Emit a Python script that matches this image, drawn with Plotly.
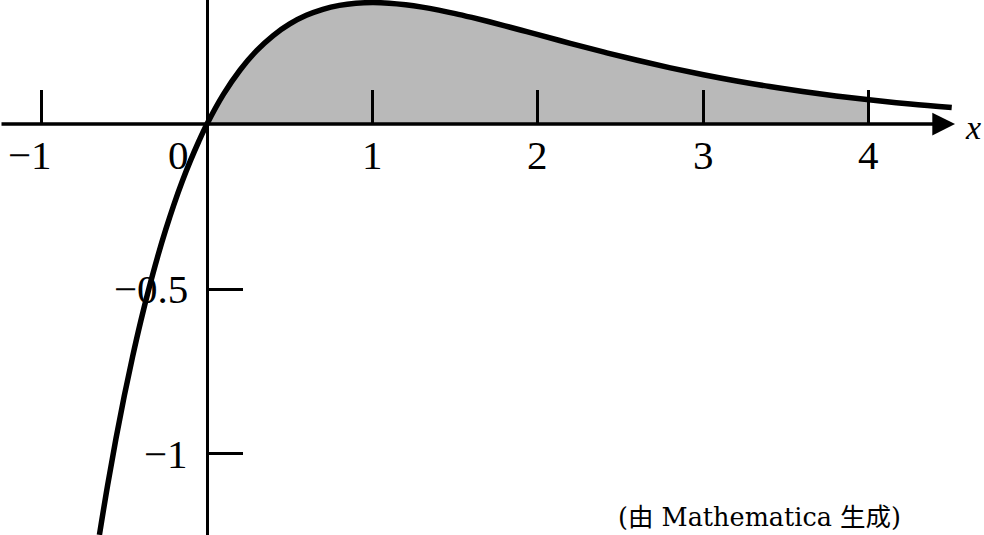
import plotly.graph_objects as go

# Curve values (y = x·e^(-x) shape)
x_vals = [-0.65, -0.6, -0.55, -0.5, -0.45, -0.4, -0.35, -0.3, -0.25, -0.2, -0.15, -0.1, -0.05,
          0.0, 0.1, 0.2, 0.3, 0.4, 0.5, 0.6, 0.7, 0.8, 0.9, 1.0, 1.1, 1.2, 1.3, 1.4, 1.5,
          1.6, 1.7, 1.8, 1.9, 2.0, 2.2, 2.4, 2.6, 2.8, 3.0, 3.2, 3.4, 3.6, 3.8, 4.0, 4.25, 4.5]
y_vals = [-1.245, -1.093, -0.953, -0.824, -0.706, -0.597, -0.497, -0.405, -0.321, -0.244, -0.174, -0.111, -0.053,
          0.0, 0.0905, 0.1637, 0.2222, 0.2681, 0.3033, 0.3293, 0.3476, 0.3595, 0.3659, 0.3679, 0.3662, 0.3614,
          0.3543, 0.3452, 0.3347, 0.3230, 0.3106, 0.2975, 0.2842, 0.2707, 0.2438, 0.2177, 0.1931, 0.1703,
          0.1494, 0.1304, 0.1135, 0.0984, 0.0850, 0.0733, 0.0606, 0.0500]

shade_from, shade_to = 0.0, 4.0
x_ticks = [-1, 1, 2, 3, 4]
x_tick_labels = ["\u22121", "0", "1", "2", "3", "4"]
x_label_pos = [-1.07, -0.17, 1, 2, 3, 4]
y_ticks = [-1, -0.5]
y_tick_labels = ["\u22121", "\u22120.5"]

X_RANGE = [-1.2508, 4.695]
Y_RANGE = [-1.2455, 0.3758]

shade_x = [x for x in x_vals if shade_from <= x <= shade_to]
shade_y = [y for x, y in zip(x_vals, y_vals) if shade_from <= x <= shade_to]

fig = go.Figure()
fig.add_trace(go.Scatter(x=shade_x, y=shade_y, mode="lines", fill="tozeroy",
                         fillcolor="#b9b9b9", line=dict(width=0), hoverinfo="skip"))
fig.add_trace(go.Scatter(x=x_vals, y=y_vals, mode="lines", line=dict(color="black", width=5.5,
                         shape="spline"), hoverinfo="skip"))

serif = "Liberation Serif, Times New Roman, serif"
annotations = []
for lbl, xp in zip(x_tick_labels, x_label_pos):
    annotations.append(dict(x=xp, y=-0.095, xref="x", yref="y", text=lbl, showarrow=False,
                            font=dict(family=serif, size=41, color="black")))
for lbl, yp in zip(y_tick_labels, y_ticks):
    annotations.append(dict(x=-0.1, y=yp, xref="x", yref="y", text=lbl, showarrow=False,
                            xanchor="right", font=dict(family=serif, size=41, color="black")))
# x axis with arrow
annotations.append(dict(x=4.52, y=0, ax=X_RANGE[0], ay=0, xref="x", yref="y", axref="x", ayref="y",
                        text="", showarrow=True, arrowhead=2, arrowsize=1.3, arrowwidth=3.5,
                        arrowcolor="black", standoff=0, startstandoff=0))
annotations.append(dict(x=4.63, y=-0.012, xref="x", yref="y", text="<i>x</i>", showarrow=False,
                        font=dict(family=serif, size=34, color="black")))
annotations.append(dict(x=0.772, y=0.034, xref="paper", yref="paper", xanchor="center", yanchor="middle",
                        text="(由 Mathematica 生成)", showarrow=False,
                        font=dict(family="DejaVu Serif, Noto Sans CJK SC, serif", size=25.5, color="black")))

fig.update_layout(
    width=984, height=535, margin=dict(l=0, r=0, t=0, b=0),
    paper_bgcolor="white", plot_bgcolor="white", showlegend=False,
    annotations=annotations,
    xaxis=dict(range=X_RANGE, domain=[0, 1], anchor="free", position=(0 - Y_RANGE[0]) / (Y_RANGE[1] - Y_RANGE[0]),
               showgrid=False, zeroline=False, showline=False, ticks="inside", ticklen=34, tickwidth=3,
               tickcolor="black", tickvals=x_ticks, showticklabels=False),
    yaxis=dict(range=Y_RANGE, domain=[0, 1], anchor="free", position=(0 - X_RANGE[0]) / (X_RANGE[1] - X_RANGE[0]),
               showgrid=False, zeroline=False, showline=True, linewidth=3, linecolor="black",
               ticks="inside", ticklen=34, tickwidth=3, tickcolor="black", tickvals=y_ticks,
               showticklabels=False),
)

fig.write_html("out.html")
